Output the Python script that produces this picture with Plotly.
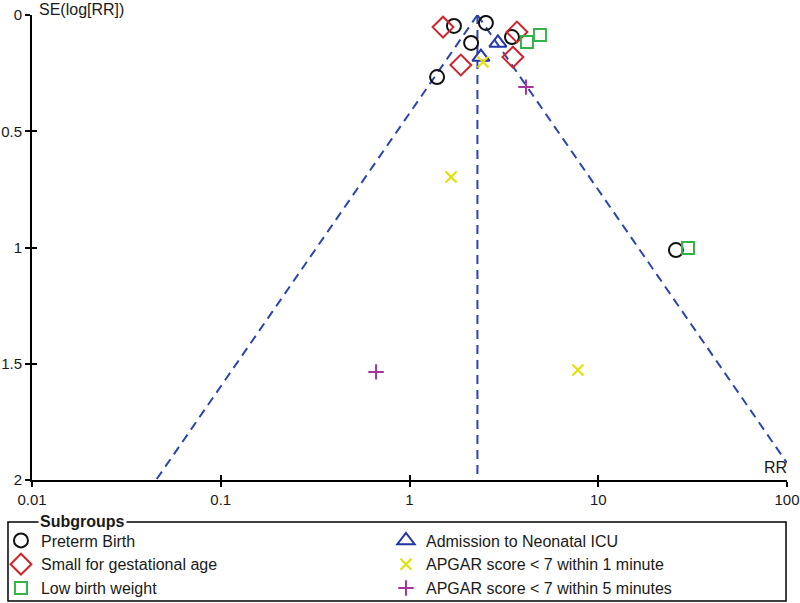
import numpy as np
import plotly.graph_objects as go

# ---- data ----
pooled_rr = 2.29

preterm_rr = [1.72, 2.54, 2.12, 3.49, 1.40, 25.8]
preterm_se = [0.047, 0.034, 0.120, 0.095, 0.267, 1.011]

sga_rr = [1.505, 3.71, 1.87, 3.53]
sga_se = [0.052, 0.073, 0.215, 0.181]

lbw_rr = [4.91, 4.19, 29.9]
lbw_se = [0.086, 0.116, 1.002]

nicu_rr = [2.94, 2.39]
nicu_se = [0.120, 0.181]

apgar1_rr = [2.45, 1.66, 7.8]
apgar1_se = [0.202, 0.697, 1.527]

apgar5_rr = [4.14, 0.665]
apgar5_se = [0.310, 1.535]

x_tickvals = [0.01, 0.1, 1, 10, 100]
x_ticktext = ["0.01", "0.1", "1", "10", "100"]
y_tickvals = [0, 0.5, 1, 1.5, 2]
y_ticktext = ["0", "0.5", "1", "1.5", "2"]

FONT = "Liberation Sans, Arial, sans-serif"
FUNNEL = "#2b44b0"

fig = go.Figure()

# funnel (pseudo 95% confidence limits) derived from the pooled estimate
se_max = 2.0
lp = np.log(pooled_rr)
left_x = [pooled_rr, float(np.exp(lp - 1.96 * se_max))]
left_y = [0, se_max]
se_right = min(se_max, (np.log(100) - lp) / 1.96)
right_x = [pooled_rr, float(np.exp(lp + 1.96 * se_right))]
right_y = [0, se_right]
for xs, ys in [(left_x, left_y), (right_x, right_y), ([pooled_rr, pooled_rr], [0, se_max])]:
    fig.add_trace(go.Scatter(x=xs, y=ys, mode="lines", showlegend=False, hoverinfo="skip",
                             line=dict(color=FUNNEL, width=2, dash="9px,6px")))

series = [
    ("Preterm Birth", preterm_rr, preterm_se, "circle-open", "#111111", 14, 1),
    ("Admission to Neonatal ICU", nicu_rr, nicu_se, "triangle-up-open", "#2236a8", 15, 2),
    ("Small for gestational age", sga_rr, sga_se, "diamond-open", "#d0242c", 16, 3),
    ("APGAR score < 7 within 1 minute", apgar1_rr, apgar1_se, "x-thin-open", "#e2e000", 11, 4),
    ("Low birth weight", lbw_rr, lbw_se, "square-open", "#33b34a", 12, 5),
    ("APGAR score < 7 within 5 minutes", apgar5_rr, apgar5_se, "cross-thin-open", "#a7329c", 11, 6),
]
for name, xs, ys, sym, col, size, rank in series:
    fig.add_trace(go.Scatter(
        x=xs, y=ys, mode="markers", name=name, legendrank=rank,
        marker=dict(symbol=sym, size=size, color=col, line=dict(color=col, width=2)),
    ))

# invisible trace on the overlay axes (used for ticks crossing the axis lines)
fig.add_trace(go.Scatter(x=[1], y=[1], xaxis="x2", yaxis="y2", mode="markers",
                         marker=dict(opacity=0), showlegend=False, hoverinfo="skip"))

axis_common = dict(showgrid=False, zeroline=False, showline=True, linecolor="black",
                   linewidth=2, ticks="outside", ticklen=5, tickwidth=2, tickcolor="black",
                   automargin=False,
                   tickfont=dict(family=FONT, size=15, color="#1a1a1a"))

fig.update_layout(
    width=800, height=603,
    margin=dict(l=32, r=13, t=15, b=123, autoexpand=False),
    paper_bgcolor="white", plot_bgcolor="white",
    font=dict(family=FONT, size=16, color="#1a1a1a"),
    xaxis=dict(type="log", range=[-2, 2], tickvals=x_tickvals, ticktext=x_ticktext,
               ticklabelstandoff=0, **axis_common),
    yaxis=dict(range=[2, 0], tickvals=y_tickvals, ticktext=y_ticktext,
               ticklabelstandoff=0, **axis_common),
    xaxis2=dict(type="log", range=[-2, 2], overlaying="x", tickvals=x_tickvals,
                showticklabels=False, showgrid=False, zeroline=False, showline=False,
                automargin=False,
                ticks="inside", ticklen=5, tickwidth=2, tickcolor="black", side="bottom"),
    yaxis2=dict(range=[2, 0], overlaying="y", tickvals=y_tickvals,
                showticklabels=False, showgrid=False, zeroline=False, showline=False,
                automargin=False,
                ticks="inside", ticklen=5, tickwidth=2, tickcolor="black", side="left"),
    legend=dict(orientation="h", x=-0.0411, y=-0.0935, xanchor="left", yanchor="top",
                entrywidth=340, entrywidthmode="pixels", bgcolor="rgba(0,0,0,0)",
                borderwidth=0, font=dict(family=FONT, size=16, color="#1a1a1a"),
                traceorder="normal"),
    showlegend=True,
)

# axis titles
fig.add_annotation(text="SE(log[RR])", xref="paper", yref="paper", x=0, y=1,
                   xanchor="left", yanchor="middle", xshift=5, yshift=6, showarrow=False,
                   font=dict(family=FONT, size=16, color="#1a1a1a"))
fig.add_annotation(text="RR", xref="paper", yref="paper", x=1, y=0,
                   xanchor="right", yanchor="bottom", xshift=2, yshift=2, showarrow=False,
                   font=dict(family=FONT, size=16, color="#1a1a1a"))

# legend frame with the title sitting on its top border
fig.add_shape(type="rect", xref="paper", yref="paper", x0=-0.0318, x1=0.9987,
              y0=-0.2602, y1=-0.0903, line=dict(color="black", width=1.5),
              fillcolor="rgba(0,0,0,0)", layer="above")
fig.add_annotation(text="<b>Subgroups</b>", xref="paper", yref="paper", x=-0.0318, y=-0.0903,
                   xanchor="left", yanchor="middle", xshift=30, showarrow=False,
                   bgcolor="white", borderpad=1,
                   font=dict(family=FONT, size=16, color="#1a1a1a"))

# remove the default page margin so the 800x603 figure fills the window exactly
fig.write_html("out.html", config={"displayModeBar": False},
               post_script="document.body.style.margin='0px';")
